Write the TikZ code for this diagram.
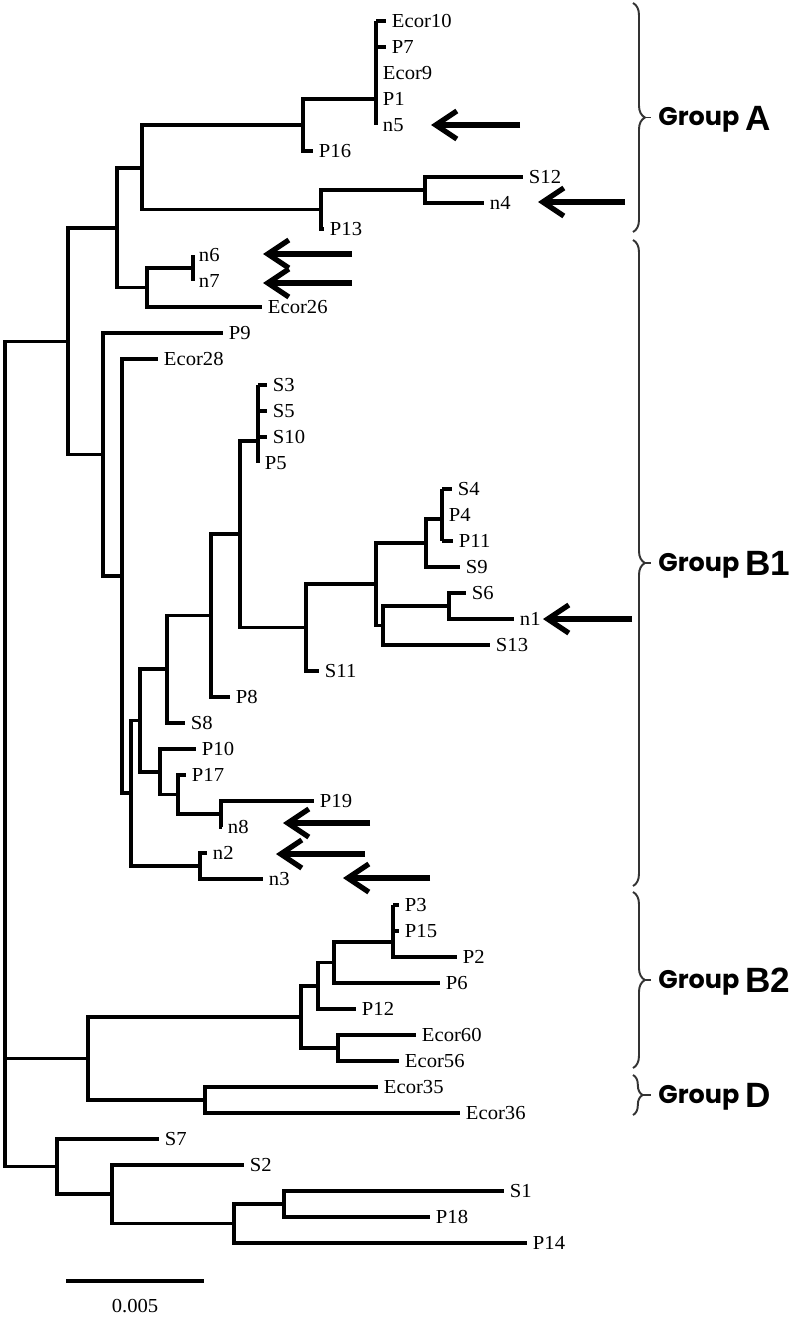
\documentclass[tikz,border=0pt]{standalone}
\usepackage{fontspec}
\setmainfont{Liberation Serif}[FakeStretch=1.04]
\newfontfamily\grpfont{Poppins}
\newfontfamily\grpletterfont{Liberation Sans}
\usetikzlibrary{arrows.meta,decorations.pathreplacing,positioning}

\tikzset{
  branch/.style={line width=1.8pt},
  leaf/.style={anchor=west,inner xsep=3.2pt,inner ysep=0pt,font=\fontsize{11.3}{13}\selectfont},
  pointer/.style={line width=3pt,-{Straight Barb[length=12pt,width=16pt]}},
  grpbrace/.style={line width=1.1pt,black!80,decorate,decoration={brace,amplitude=6.8pt}},
  grpword/.style={font=\grpfont\bfseries\fontsize{14.5}{16}\selectfont,inner sep=0pt,anchor=base west},
  grpletter/.style={font=\grpletterfont\bfseries\fontsize{20}{22}\selectfont,inner sep=0pt}
}

\begin{document}
\begin{tikzpicture}[x=0.02cm,y=-0.02cm]
  \useasboundingbox (0,0) rectangle (792,1318);
  %\draw (0,0) rectangle (792,1318);

  % inner nodes of the tree
  \coordinate (root) at (5,754);
  \coordinate (X1) at (68,341.3);
  \coordinate (X2) at (117,228);
  \coordinate (X3) at (142,168);
  \coordinate (X4) at (303,125);
  \coordinate (C1) at (376,99);
  \coordinate (X6) at (321,209.5);
  \coordinate (X7) at (425,190);
  \coordinate (X8) at (147,287.5);
  \coordinate (B1) at (193,268);
  \coordinate (X9) at (103,454.6);
  \coordinate (X10) at (122,576);
  \coordinate (X11) at (131,793);
  \coordinate (X12) at (140,720.5);
  \coordinate (X13) at (167,669);
  \coordinate (X14) at (211,615.5);
  \coordinate (X15) at (240,534);
  \coordinate (C2) at (258,441);
  \coordinate (X16) at (306,627.5);
  \coordinate (X17) at (376,584);
  \coordinate (X18) at (426,543);
  \coordinate (C3) at (442,519);
  \coordinate (X19) at (383,625.5);
  \coordinate (X20) at (449,606);
  \coordinate (X21) at (160,772);
  \coordinate (X22) at (178,794.5);
  \coordinate (X23) at (221,814);
  \coordinate (X24) at (200,866);
  \coordinate (Y1) at (88,1058.5);
  \coordinate (Y2) at (301,1017);
  \coordinate (Y3) at (318,986);
  \coordinate (Y4) at (334,962.5);
  \coordinate (C4) at (393,942);
  \coordinate (Y5) at (338,1048);
  \coordinate (Y6) at (205,1100);
  \coordinate (Z0) at (57,1166.5);
  \coordinate (Z1) at (112,1194);
  \coordinate (Z2) at (234,1223.5);
  \coordinate (Z3) at (284,1204);

  % strains
  \node[leaf] (Ecor10) at (386,21) {Ecor10};
  \node[leaf] (P7) at (386,47) {P7};
  \node[leaf] (Ecor9) at (377,73) {Ecor9};
  \node[leaf] (P1) at (377,99) {P1};
  \node[leaf] (n5) at (377,125) {n5};
  \node[leaf] (P16) at (313,151) {P16};
  \node[leaf] (S12) at (523,177) {S12};
  \node[leaf] (n4) at (484,203) {n4};
  \node[leaf] (P13) at (324,229) {P13};
  \node[leaf] (n6) at (193,255) {n6};
  \node[leaf] (n7) at (193,281) {n7};
  \node[leaf] (Ecor26) at (262,307) {Ecor26};
  \node[leaf] (P9) at (223,333) {P9};
  \node[leaf] (Ecor28) at (158,359) {Ecor28};
  \node[leaf] (S3) at (267,385) {S3};
  \node[leaf] (S5) at (267,411) {S5};
  \node[leaf] (S10) at (267,437) {S10};
  \node[leaf] (P5) at (259,463) {P5};
  \node[leaf] (S4) at (452,489) {S4};
  \node[leaf] (P4) at (443,515) {P4};
  \node[leaf] (P11) at (453,541) {P11};
  \node[leaf] (S9) at (460,567) {S9};
  \node[leaf] (S6) at (466,593) {S6};
  \node[leaf] (n1) at (514,619) {n1};
  \node[leaf] (S13) at (490,645) {S13};
  \node[leaf] (S11) at (319,671) {S11};
  \node[leaf] (P8) at (230,697) {P8};
  \node[leaf] (S8) at (185,723) {S8};
  \node[leaf] (P10) at (196,749) {P10};
  \node[leaf] (P17) at (186,775) {P17};
  \node[leaf] (P19) at (314,801) {P19};
  \node[leaf] (n8) at (222,827) {n8};
  \node[leaf] (n2) at (207,853) {n2};
  \node[leaf] (n3) at (263,879) {n3};
  \node[leaf] (P3) at (399,905) {P3};
  \node[leaf] (P15) at (399,931) {P15};
  \node[leaf] (P2) at (457,957) {P2};
  \node[leaf] (P6) at (440,983) {P6};
  \node[leaf] (P12) at (356,1009) {P12};
  \node[leaf] (Ecor60) at (416,1035) {Ecor60};
  \node[leaf] (Ecor56) at (399,1061) {Ecor56};
  \node[leaf] (Ecor35) at (378,1087) {Ecor35};
  \node[leaf] (Ecor36) at (460,1113) {Ecor36};
  \node[leaf] (S7) at (159,1139) {S7};
  \node[leaf] (S2) at (244,1165) {S2};
  \node[leaf] (S1) at (504,1191) {S1};
  \node[leaf] (P18) at (430,1217) {P18};
  \node[leaf] (P14) at (527,1243) {P14};

  % branches
  \draw[branch] (root) |- (X1) (root) |- (Y1) (root) |- (Z0);
  \draw[branch] (X1) |- (X2) (X1) |- (X9);
  \draw[branch] (X2) |- (X3) (X2) |- (X8);
  \draw[branch] (X3) |- (X4) (X3) |- (X6);
  \draw[branch] (X4) |- (C1) (X4) |- (P16.west);
  \draw[branch] (Ecor10.west -| C1) -- (n5.west -| C1);
  \draw[branch] (Ecor10.west -| C1) -- (Ecor10.west) (P7.west -| C1) -- (P7.west);
  \draw[branch] (X6) |- (X7) (X6) |- (P13.west);
  \draw[branch] (X7) |- (S12.west) (X7) |- (n4.west);
  \draw[branch] (X8) |- (B1) (X8) |- (Ecor26.west);
  \draw[branch] (n6.west) -- (n7.west);
  \draw[branch] (X9) |- (P9.west) (X9) |- (X10);
  \draw[branch] (X10) |- (Ecor28.west) (X10) |- (X11);
  \draw[branch] (X11) |- (X12) (X11) |- (X24);
  \draw[branch] (X12) |- (X13) (X12) |- (X21);
  \draw[branch] (X13) |- (X14) (X13) |- (S8.west);
  \draw[branch] (X14) |- (X15) (X14) |- (P8.west);
  \draw[branch] (X15) |- (C2) (X15) |- (X16);
  \draw[branch] (S3.west -| C2) -- (P5.west -| C2);
  \draw[branch] (S3.west -| C2) -- (S3.west) (S5.west -| C2) -- (S5.west) (S10.west -| C2) -- (S10.west);
  \draw[branch] (X16) |- (X17) (X16) |- (S11.west);
  \draw[branch] (X17) |- (X18) (X17) |- (X19);
  \draw[branch] (X18) |- (C3) (X18) |- (S9.west);
  \draw[branch] (S4.west -| C3) -- (P11.west -| C3);
  \draw[branch] (S4.west -| C3) -- (S4.west) (P11.west -| C3) -- (P11.west);
  \draw[branch] (X19) |- (X20) (X19) |- (S13.west);
  \draw[branch] (X20) |- (S6.west) (X20) |- (n1.west);
  \draw[branch] (X21) |- (P10.west) (X21) |- (X22);
  \draw[branch] (X22) |- (P17.west) (X22) |- (X23);
  \draw[branch] (X23) |- (P19.west) (X23) |- (n8.west);
  \draw[branch] (X24) |- (n2.west) (X24) |- (n3.west);
  \draw[branch] (Y1) |- (Y2) (Y1) |- (Y6);
  \draw[branch] (Y2) |- (Y3) (Y2) |- (Y5);
  \draw[branch] (Y3) |- (Y4) (Y3) |- (P12.west);
  \draw[branch] (Y4) |- (C4) (Y4) |- (P6.west);
  \draw[branch] (P3.west -| C4) -- (P2.west -| C4) -- (P2.west);
  \draw[branch] (P3.west -| C4) -- (P3.west) (P15.west -| C4) -- (P15.west);
  \draw[branch] (Y5) |- (Ecor60.west) (Y5) |- (Ecor56.west);
  \draw[branch] (Y6) |- (Ecor35.west) (Y6) |- (Ecor36.west);
  \draw[branch] (Z0) |- (S7.west) (Z0) |- (Z1);
  \draw[branch] (Z1) |- (S2.west) (Z1) |- (Z2);
  \draw[branch] (Z2) |- (Z3) (Z2) |- (P14.west);
  \draw[branch] (Z3) |- (S1.west) (Z3) |- (P18.west);

  % arrows to the new isolates
  \coordinate (a5) at (520,125);  \coordinate (h5) at (431,125);
  \coordinate (a4) at (625,202);  \coordinate (h4) at (538,202);
  \coordinate (a6) at (352,254);  \coordinate (h6) at (263,254);
  \coordinate (a7) at (352,283);  \coordinate (h7) at (263,283);
  \coordinate (a1) at (632,619);  \coordinate (h1) at (543,619);
  \coordinate (a8) at (370,823);  \coordinate (h8) at (283,823);
  \coordinate (a2) at (365,854);  \coordinate (h2) at (276,854);
  \coordinate (a3) at (430,878);  \coordinate (h3) at (343,878);
  \draw[pointer] (a5) -- (h5);
  \draw[pointer] (a4) -- (h4);
  \draw[pointer] (a6) -- (h6);
  \draw[pointer] (a7) -- (h7);
  \draw[pointer] (a1) -- (h1);
  \draw[pointer] (a8) -- (h8);
  \draw[pointer] (a2) -- (h2);
  \draw[pointer] (a3) -- (h3);

  % scale bar
  \coordinate (sbl) at (66,1281);
  \coordinate (sbr) at (204,1281);
  \draw[branch] (sbl) -- (sbr);
  \node[font=\fontsize{11.3}{13}\selectfont] (sbt) at (135,1306) {0.005};

  % groups
  \coordinate (gAt) at (633,3);     \coordinate (gAb) at (633,232);
  \coordinate (gB1t) at (633,240);  \coordinate (gB1b) at (633,886);
  \coordinate (gB2t) at (633,892);  \coordinate (gB2b) at (633,1068);
  \coordinate (gDt) at (633,1075);  \coordinate (gDb) at (633,1115);
  \draw[grpbrace] (gAt) -- (gAb);
  \draw[grpbrace] (gB1t) -- (gB1b);
  \draw[grpbrace] (gB2t) -- (gB2b);
  \draw[grpbrace,decoration={amplitude=5.5pt}] (gDt) -- (gDb);
  \coordinate (tA) at (645,117.5);   \coordinate (dA) at (651,117.5);
  \coordinate (tB1) at (645,563);    \coordinate (dB1) at (651,563);
  \coordinate (tB2) at (645,980);    \coordinate (dB2) at (651,980);
  \coordinate (tD) at (643,1095);    \coordinate (dD) at (651,1095);
  \draw[line width=1.1pt,black!80] (tA) -- (dA) (tB1) -- (dB1) (tB2) -- (dB2) (tD) -- (dD);

  \node[grpword] (gA) at (658,126) {Group};
  \node[grpletter,base right=3pt of gA,yshift=-2.3pt] (gAx) {A};
  \node[grpword] (gB1) at (658,571.5) {Group};
  \node[grpletter,base right=3pt of gB1,yshift=-2.3pt] (gB1x) {B1};
  \node[grpword] (gB2) at (658,988.5) {Group};
  \node[grpletter,base right=3pt of gB2,yshift=-2.3pt] (gB2x) {B2};
  \node[grpword] (gD) at (658,1103.5) {Group};
  \node[grpletter,base right=3pt of gD,yshift=-2.3pt] (gDx) {D};
\end{tikzpicture}
\end{document}
